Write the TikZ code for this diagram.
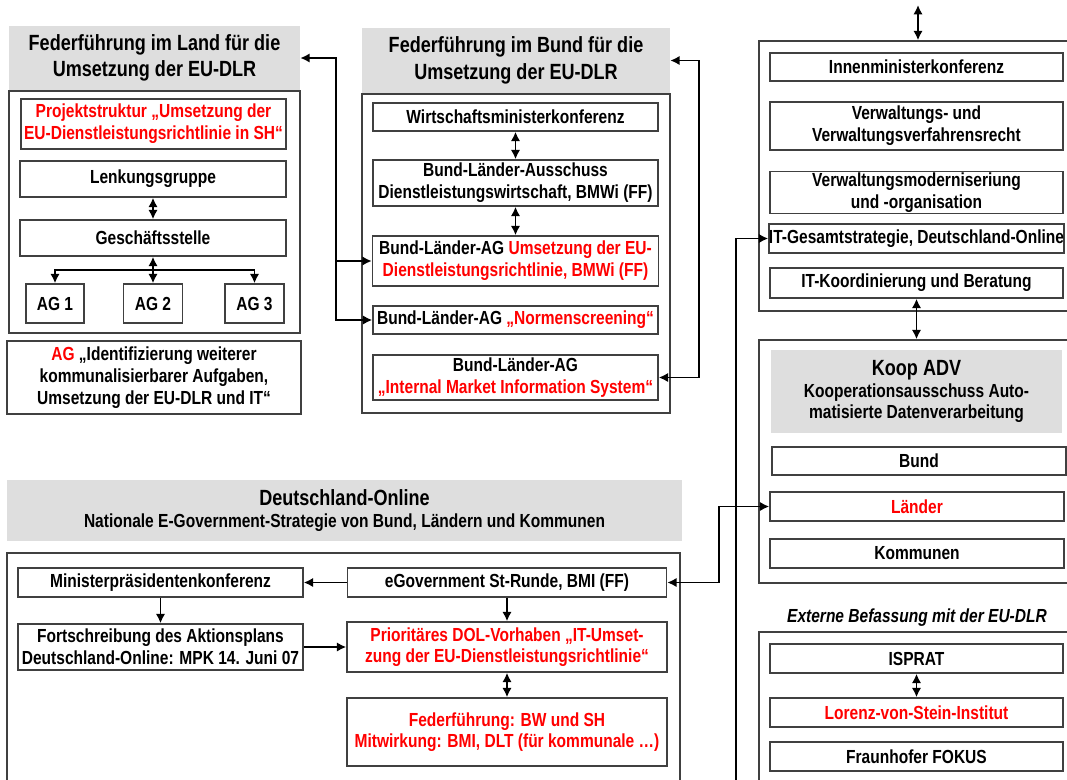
\documentclass[tikz,border=0pt]{standalone}
\usepackage{fontspec}
\setmainfont{Liberation Sans}[FakeStretch=0.82]
\usetikzlibrary{arrows.meta}

\newcommand\boxfont{\bfseries\fontsize{14.2}{16.3}\selectfont}
\newcommand\hdfont{\bfseries\fontsize{16.5}{20}\selectfont}

\tikzset{
  box/.style={draw=black!75, line width=1.1pt, fill=white, align=center, inner sep=1pt, font=\boxfont},
  frame/.style={draw=black!75, line width=1.1pt, inner sep=0pt},
  head/.style={fill=black!13, align=center, inner sep=0pt, font=\hdfont},
  wh/.style 2 args={minimum width=#1*0.75pt, minimum height=#2*0.75pt},
  link/.style={line width=1.4pt},
}

\begin{document}
\begin{tikzpicture}[x=0.75pt, y=-0.75pt, >={Latex[length=7pt,width=7pt]}]
      \useasboundingbox (0,0) rectangle (1067,779);
      \clip (0,0) rectangle (1067,779);

      % Federfuehrung im Land
      \node [head, wh={291}{64}] (landhead) at (154.5,58) {Federführung im Land für die\\Umsetzung der EU-DLR};
      \node [frame, wh={291}{242}] (landframe) at (154.5,212) {};
      \node [box, wh={265}{50}, text=red] (projekt) at (153.5,124) {Projektstruktur „Umsetzung der\\EU-Dienstleistungsrichtlinie in SH“};
      \node [box, wh={266}{36}] (lenk) at (153,179) {Lenkungsgruppe};
      \node [box, wh={266}{36}] (gst) at (153,238) {Geschäftsstelle};
      \node [box, wh={58}{39}] (ag1) at (55,303.5) {AG 1};
      \node [box, wh={59}{39}] (ag2) at (153,303.5) {AG 2};
      \node [box, wh={59}{39}] (ag3) at (254.5,303.5) {AG 3};
      \node [box, wh={294}{73}] (agident) at (154,377.5) {\textcolor{red}{AG} „Identifizierung weiterer\\kommunalisierbarer Aufgaben,\\Umsetzung der EU-DLR und IT“};
      \draw [link,<->] (lenk) -- (gst);
      \draw [link,<->] (gst) -- (ag2);
      \coordinate (agfork) at (153,270);
      \draw [link,->] (agfork) -| (ag1);
      \draw [link,->] (agfork) -| (ag3);

      % Federfuehrung im Bund
      \node [head, wh={308}{65}] (bundhead) at (516,60.5) {Federführung im Bund für die\\Umsetzung der EU-DLR};
      \node [frame, wh={308}{319}] (bundframe) at (516,253.5) {};
      \node [box, wh={285}{28}] (wmk) at (515.5,117) {Wirtschaftsministerkonferenz};
      \node [box, wh={285}{46}] (blaus) at (515.5,183) {Bund-Länder-Ausschuss\\Dienstleistungswirtschaft, BMWi (FF)};
      \node [box, wh={286}{50}] (blag) at (515.5,261) {Bund-Länder-AG \textcolor{red}{Umsetzung der EU-}\\\textcolor{red}{Dienstleistungsrichtlinie, BMWi (FF)}};
      \node [box, wh={285}{28}] (normen) at (515.5,320) {Bund-Länder-AG \textcolor{red}{„Normenscreening“}};
      \node [box, wh={285}{45}] (imis) at (515.5,377.5) {Bund-Länder-AG\\\textcolor{red}{„Internal Market Information System“}};
      \draw [link,<->] (wmk) -- (blaus);
      \draw [link,<->] (blaus) -- (blag);
      \coordinate (landbus) at (336,320);
      \draw [link,<->] (landhead.east) -| (landbus) -- (normen.west);
      \draw [link,->] (landbus |- blag.west) -- (blag.west);
      \draw [link,<->] (bundhead.east) -- ++(29,0) |- (imis.east);

      % Innenministerkonferenz
      \node [frame, wh={318}{270}] (innenframe) at (918,176) {};
      \node [box, wh={293}{28}] (imk) at (916.5,67) {Innenministerkonferenz};
      \node [box, wh={293}{48}] (vwr) at (916.5,126) {Verwaltungs- und\\Verwaltungsverfahrensrecht};
      \node [box, wh={293}{41}] (vwm) at (916.5,192.5) {Verwaltungsmoderniseriung\\und -organisation};
      \node [box, wh={293}{29}, inner xsep=0pt] (itges) at (916.5,238.5) {IT-Gesamtstrategie, Deutschland-Online};
      \node [box, wh={293}{30}] (itkoord) at (916.5,283) {IT-Koordinierung und Beratung};
      \coordinate (imkin) at (918,5);
      \coordinate (itfree) at (736,790);
      \draw [link,<->] (imkin) -- (innenframe.north);
      \draw [link,->] (itfree) |- (itges.west);

      % Koop ADV
      \node [frame, wh={318}{243}] (koopframe) at (918,461.5) {};
      \node [head, wh={291}{83}, font=\boxfont] (koophead) at (916.5,391.5) {{\hdfont Koop ADV}\\Kooperationsausschuss Auto-\\matisierte Datenverarbeitung};
      \node [box, wh={294}{28}] (bund) at (919,461) {Bund};
      \node [box, wh={294}{29}, text=red] (laender) at (917,506.5) {Länder};
      \node [box, wh={294}{29}] (kommunen) at (917,553.5) {Kommunen};
      \draw [link,<->] (itkoord.south) -- (itkoord.south |- koopframe.north);

      % Externe Befassung
      \node [font=\boxfont\itshape] (extlabel) at (917,618) {Externe Befassung mit der EU-DLR};
      \node [frame, wh={318}{168}] (extframe) at (918,716) {};
      \node [box, wh={293}{29}] (isprat) at (916.5,658.5) {ISPRAT};
      \node [box, wh={293}{29}, text=red] (lorenz) at (916.5,712.5) {Lorenz-von-Stein-Institut};
      \node [box, wh={293}{29}] (fokus) at (916.5,756.5) {Fraunhofer FOKUS};
      \draw [link,<->] (isprat) -- (lorenz);

      % Deutschland-Online
      \node [head, wh={675}{61}, font=\boxfont] (dolhead) at (344.5,510.5) {{\hdfont Deutschland-Online}\\Nationale E-Government-Strategie von Bund, Ländern und Kommunen};
      \node [frame, wh={673}{247}] (dolframe) at (343.5,676.5) {};
      \node [box, wh={285}{29}] (mpk) at (160.5,582.5) {Ministerpräsidentenkonferenz};
      \node [box, wh={285}{46}] (fort) at (160.5,647) {Fortschreibung des Aktionsplans\\Deutschland-Online: MPK 14. Juni 07};
      \node [box, wh={319}{29}] (egov) at (507,582.5) {eGovernment St-Runde, BMI (FF)};
      \node [box, wh={320}{50}, text=red] (prio) at (507,647) {Prioritäres DOL-Vorhaben „IT-Umset-\\zung der EU-Dienstleistungsrichtlinie“};
      \node [box, wh={320}{68}, text=red] (ffbw) at (507,732) {Federführung: BW und SH\\Mitwirkung: BMI, DLT (für kommunale …)};
      \draw [link,->] (egov) -- (mpk);
      \draw [link,->] (mpk) -- (fort);
      \draw [link,->] (fort) -- (prio);
      \draw [link,->] (egov) -- (prio);
      \draw [link,<->] (prio) -- (ffbw);
      \draw [link,<->] (egov.east) -- ++(52,0) |- (laender.west);
\end{tikzpicture}
\end{document}
